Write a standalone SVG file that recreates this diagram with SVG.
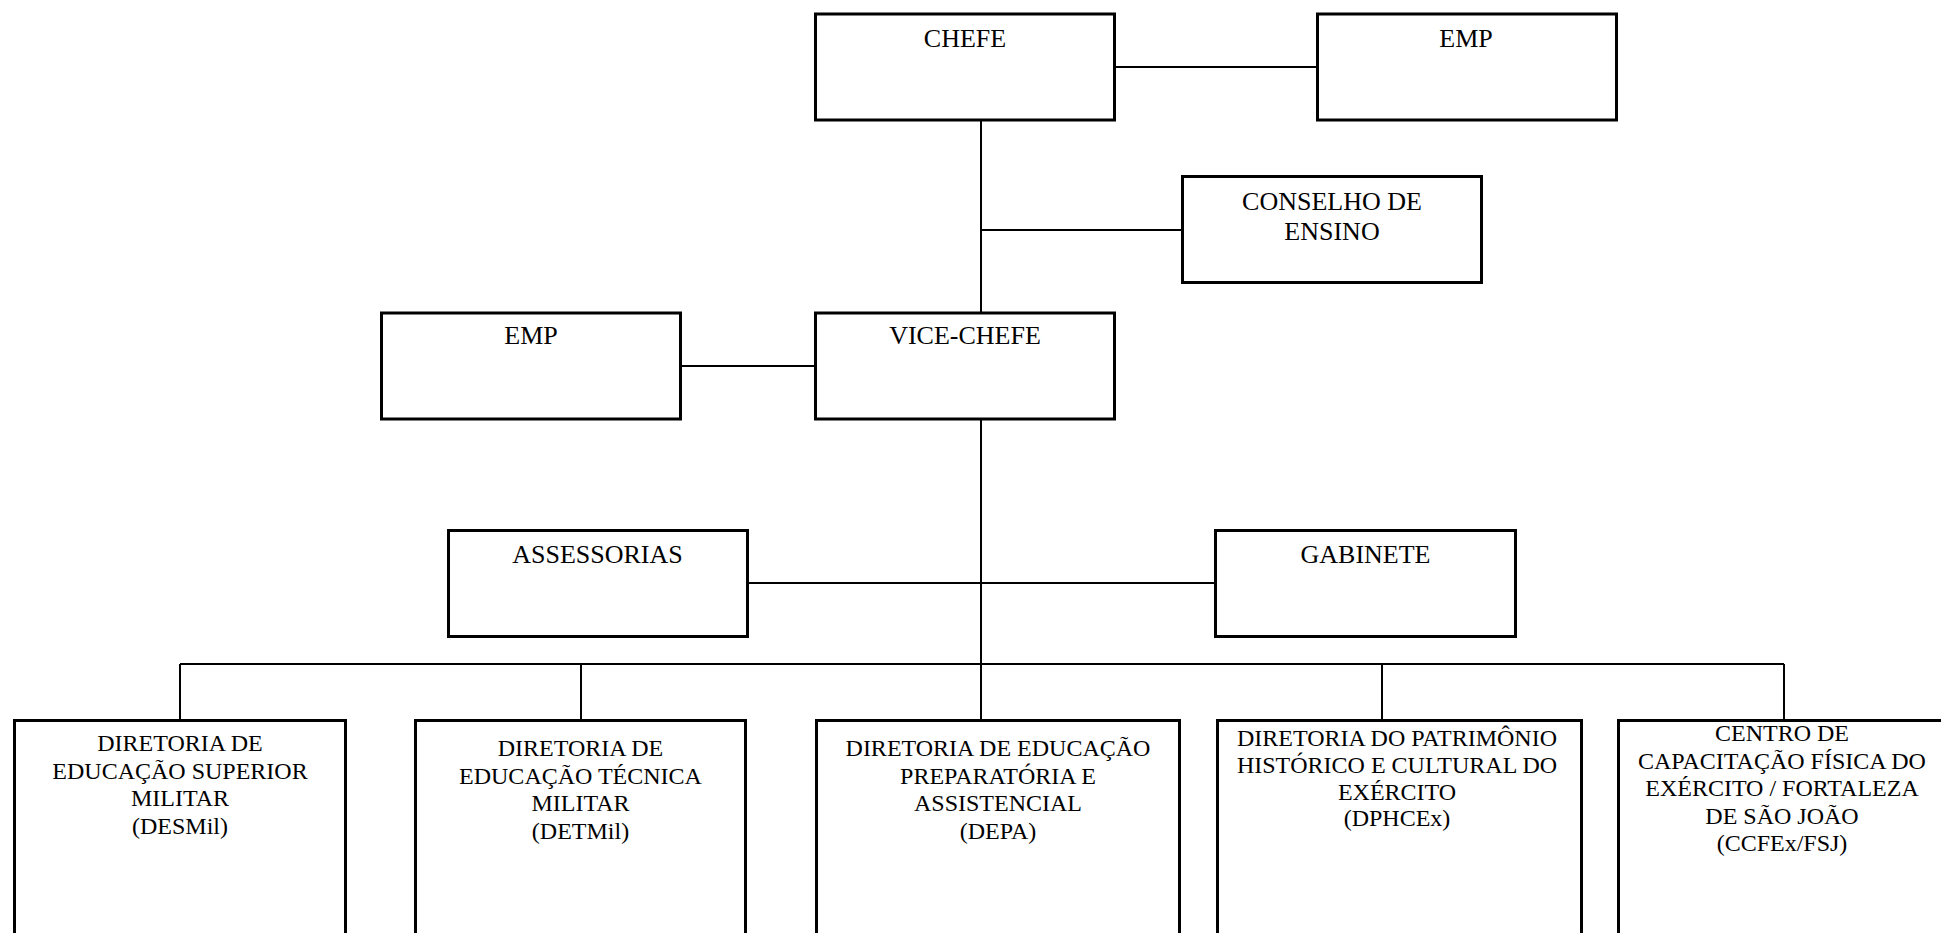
<svg xmlns="http://www.w3.org/2000/svg" width="1941" height="933" viewBox="0 0 1941 933">
<style>
.box{fill:#fff;stroke:#000;stroke-width:3}
.ln{stroke:#000;stroke-width:2;fill:none}
.t{font-family:"Liberation Serif","Times New Roman",serif;font-size:26px;fill:#000;text-anchor:middle}
.s{font-family:"Liberation Serif","Times New Roman",serif;font-size:24px;fill:#000;text-anchor:middle}
</style>
<rect width="1941" height="933" fill="#fff"/>
<g id="connectors">
<line class="ln" x1="1115" y1="67" x2="1316" y2="67"/>
<line class="ln" x1="981" y1="121" x2="981" y2="719"/>
<line class="ln" x1="981" y1="230" x2="1181" y2="230"/>
<line class="ln" x1="681" y1="366" x2="815" y2="366"/>
<line class="ln" x1="748" y1="583" x2="1214" y2="583"/>
<line class="ln" x1="180" y1="664" x2="1784" y2="664"/>
<line class="ln" x1="180" y1="664" x2="180" y2="719"/>
<line class="ln" x1="581" y1="664" x2="581" y2="719"/>
<line class="ln" x1="1382" y1="664" x2="1382" y2="719"/>
<line class="ln" x1="1784" y1="664" x2="1784" y2="719"/>
</g>
<g id="chefe">
<rect class="box" x="815.5" y="14" width="299" height="106"/>
<text class="t" x="965" y="47">CHEFE</text>
</g>
<g id="emp-top">
<rect class="box" x="1317.5" y="14" width="299" height="106"/>
<text class="t" x="1466" y="47">EMP</text>
</g>
<g id="conselho">
<rect class="box" x="1182.5" y="176.5" width="299" height="106"/>
<text class="t" x="1332" y="210">CONSELHO DE</text>
<text class="t" x="1332" y="240">ENSINO</text>
</g>
<g id="emp-left">
<rect class="box" x="381.5" y="313" width="299" height="106"/>
<text class="t" x="531" y="344">EMP</text>
</g>
<g id="vice-chefe">
<rect class="box" x="815.5" y="313" width="299" height="106"/>
<text class="t" x="965" y="344">VICE-CHEFE</text>
</g>
<g id="assessorias">
<rect class="box" x="448.5" y="530.5" width="299" height="106"/>
<text class="t" x="597.5" y="563">ASSESSORIAS</text>
</g>
<g id="gabinete">
<rect class="box" x="1215.5" y="530.5" width="300" height="106"/>
<text class="t" x="1365.5" y="563">GABINETE</text>
</g>
<g id="desmil">
<rect class="box" x="14.5" y="720.5" width="331" height="230"/>
<text class="s" x="180" y="751">DIRETORIA DE</text>
<text class="s" x="180" y="779">EDUCAÇÃO SUPERIOR</text>
<text class="s" x="180" y="806">MILITAR</text>
<text class="s" x="180" y="834">(DESMil)</text>
</g>
<g id="detmil">
<rect class="box" x="415.5" y="720.5" width="330" height="230"/>
<text class="s" x="580.5" y="756">DIRETORIA DE</text>
<text class="s" x="580.5" y="783.5">EDUCAÇÃO TÉCNICA</text>
<text class="s" x="580.5" y="811">MILITAR</text>
<text class="s" x="580.5" y="838.5">(DETMil)</text>
</g>
<g id="depa">
<rect class="box" x="816.5" y="720.5" width="363" height="230"/>
<text class="s" x="998" y="756">DIRETORIA DE EDUCAÇÃO</text>
<text class="s" x="998" y="783.5">PREPARATÓRIA E</text>
<text class="s" x="998" y="811">ASSISTENCIAL</text>
<text class="s" x="998" y="838.5">(DEPA)</text>
</g>
<g id="dphcex">
<rect class="box" x="1217.5" y="720.5" width="364" height="230"/>
<text class="s" x="1397" y="745.5">DIRETORIA DO PATRIMÔNIO</text>
<text class="s" x="1397" y="772.5">HISTÓRICO E CULTURAL DO</text>
<text class="s" x="1397" y="799.5">EXÉRCITO</text>
<text class="s" x="1397" y="826">(DPHCEx)</text>
</g>
<g id="ccfex">
<rect class="box" x="1618.5" y="720.5" width="330" height="230"/>
<text class="s" x="1782" y="741">CENTRO DE</text>
<text class="s" x="1782" y="768.5">CAPACITAÇÃO FÍSICA DO</text>
<text class="s" x="1782" y="796">EXÉRCITO / FORTALEZA</text>
<text class="s" x="1782" y="823.5">DE SÃO JOÃO</text>
<text class="s" x="1782" y="851">(CCFEx/FSJ)</text>
</g>
</svg>
